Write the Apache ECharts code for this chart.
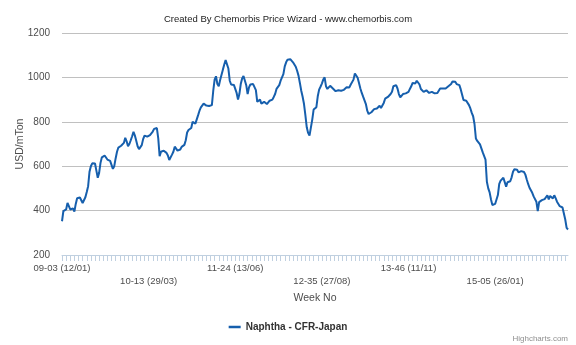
<!DOCTYPE html>
<html>
<head>
<meta charset="utf-8">
<script src="https://cdn.jsdelivr.net/npm/echarts@6/dist/echarts.min.js"></script>
<style>
  html, body { margin: 0; padding: 0; background: #fff; }
  #chart { width: 576px; height: 345px; }
</style>
</head>
<body>
<div id="chart"></div>
<script>
// Weekly Naphtha CFR-Japan prices (USD/mTon), grouped by ISO year
const prices2009 = [352, 398, 400, 405, 435, 440, 405, 400, 410, 396,
  430, 456, 460, 459, 450, 434, 438, 460, 484, 510,
  575, 600, 613, 615, 612, 580, 548, 570, 615, 640,
  648, 648, 643, 630, 626, 624, 620, 588, 600, 635,
  665, 684, 681, 692, 690, 705, 728, 712, 690, 700, 717];
const prices2010 = [735, 755, 738, 715, 690, 677, 672, 695, 722,
  738, 742, 733, 736, 740, 748, 756, 768, 774, 772,
  725, 645, 665, 657, 670, 673, 660, 648, 628, 637,
  652, 665, 688, 684, 670, 668, 675, 687, 692, 696,
  717, 752, 763, 765, 772, 800, 796, 792, 800, 830,
  850, 865, 870];
const prices2011 = [882, 874, 873, 875, 871, 872, 875,
  940, 990, 1005, 970, 960, 988, 994, 1035, 1058, 1078,
  1082, 1040, 985, 968, 960, 966, 948, 930, 900, 925,
  970, 995, 1006, 998, 965, 925, 955, 968, 973, 970,
  965, 943, 890, 885, 900, 882, 883, 890, 893, 880,
  875, 895, 895, 900, 912];
const prices2012 = [925, 948, 950, 965, 985,
  1000, 1015, 1050, 1068, 1080, 1086, 1082, 1076, 1068, 1058,
  1048, 1030, 1008, 975, 940, 913, 880, 830, 775, 750,
  738, 732, 810, 855, 860, 866, 915, 945, 958, 972,
  990, 1000, 960, 948, 955, 962, 970, 950, 945, 938,
  936, 942, 936, 940, 936, 944, 950];
const prices2013 = [956, 948, 955,
  968, 975, 990, 1018, 1020, 998, 975, 950, 930, 913,
  905, 880, 850, 835, 830, 843, 850, 857, 860, 860,
  860, 872, 862, 870, 885, 904, 900, 912, 918, 925,
  935, 960, 968, 965, 950, 925, 910, 905, 925, 931,
  928, 928, 935, 948, 960, 975, 980, 973, 985];
const prices2014 = [990,
  968, 948, 942, 935, 932, 942, 937, 930, 928, 935,
  926, 928, 928, 930, 935, 950, 955, 950, 955, 950,
  946, 960, 956, 970, 982, 985, 980, 970, 968, 965,
  946, 922, 898, 905, 895, 888, 875, 860, 840, 825,
  790, 725, 714, 708, 698, 680, 662, 669, 630, 530,
  500];
const prices2015 = [482, 450, 425, 416, 430, 437, 470, 520, 535,
  544, 548, 545, 508, 528, 526, 532, 550, 575, 586,
  588, 584, 572, 572, 578, 581, 574, 562, 540, 520,
  503, 498, 480, 464, 455, 440, 398, 438, 446, 447,
  449, 452, 460, 469, 450, 466, 460, 455, 469, 456,
  440, 430, 420, 418];
const prices2016 = [414, 405, 360, 322, 315];

const naphtha = [].concat(prices2009, prices2010, prices2011, prices2012,
  prices2013, prices2014, prices2015, prices2016);

// Week labels "YY-WW (DD/MM)", one per Monday from 12/01/2009
const firstMonday = Date.UTC(2009, 0, 12);
const pad = n => (n < 10 ? '0' : '') + n;
function weekLabel(ms) {
  const d = new Date(ms);
  const thu = new Date(ms);
  thu.setUTCDate(d.getUTCDate() - ((d.getUTCDay() + 6) % 7) + 3);
  const isoYear = thu.getUTCFullYear();
  const jan1 = Date.UTC(isoYear, 0, 1);
  const week = 1 + Math.floor((thu.getTime() - jan1) / 86400000 / 7);
  return pad(isoYear % 100) + '-' + pad(week) + ' (' + pad(d.getUTCDate()) + '/' + pad(d.getUTCMonth() + 1) + ')';
}
const weeks = naphtha.map((_, i) => weekLabel(firstMonday + i * 7 * 86400000));

const yTicks = { min: 200, max: 1200, step: 200 };
const labelEvery = 63;

const font = '"Liberation Sans", Arial, sans-serif';
const chart = echarts.init(document.getElementById('chart'), null, { renderer: 'canvas' });
chart.setOption({
  animation: false,
  backgroundColor: '#ffffff',
  title: {
    text: 'Created By Chemorbis Price Wizard - www.chemorbis.com',
    left: 'center', top: 9,
    textStyle: { fontFamily: font, fontSize: 9.5, fontWeight: 'normal', color: '#222' }
  },
  graphic: [{
    type: 'text', right: 8, top: 335,
    style: { text: 'Highcharts.com', fontFamily: font, fontSize: 8, fill: '#909090' }
  }],
  legend: {
    bottom: 8, left: 'center',
    icon: 'rect', itemWidth: 12, itemHeight: 2.5, itemGap: 6,
    textStyle: { fontFamily: font, fontSize: 10, fontWeight: 'bold', color: '#333' },
    data: ['Naphtha - CFR-Japan']
  },
  grid: { left: 62, right: 8, top: 33, bottom: 90, containLabel: false, outerBoundsMode: 'none' },
  xAxis: {
    type: 'category',
    data: weeks,
    boundaryGap: false,
    name: 'Week No',
    nameLocation: 'middle',
    nameGap: 38,
    nameMoveOverlap: false,
    nameTextStyle: { fontFamily: font, fontSize: 10.5, color: '#4d4d4d' },
    axisLine: { lineStyle: { color: '#C0D0E0', width: 1 } },
    axisTick: { interval: 2, length: 6, lineStyle: { color: '#C0D0E0' } },
    axisLabel: {
      interval: labelEvery - 1,
      margin: 7,
      fontFamily: font, fontSize: 9.5, color: '#4d4d4d', lineHeight: 13,
      formatter: (v, i) => (Math.round(i / labelEvery) % 2 === 1 ? '\n' + v : v)
    },
    splitLine: { show: false }
  },
  yAxis: {
    type: 'value',
    min: yTicks.min, max: yTicks.max, interval: yTicks.step,
    name: 'USD/mTon',
    nameLocation: 'middle',
    nameGap: 36,
    nameMoveOverlap: false,
    nameTextStyle: { fontFamily: font, fontSize: 10.5, color: '#4d4d4d' },
    axisLine: { show: false },
    axisTick: { show: false },
    axisLabel: {
      margin: 12, fontFamily: font, fontSize: 10, color: '#4d4d4d',
      formatter: v => String(v)
    },
    splitLine: { lineStyle: { color: '#C0C0C0', width: 1 } }
  },
  series: [{
    name: 'Naphtha - CFR-Japan',
    type: 'line',
    data: naphtha,
    symbol: 'none',
    color: '#165fad',
    lineStyle: { width: 2, color: '#165fad' }
  }]
});
</script>
</body>
</html>
